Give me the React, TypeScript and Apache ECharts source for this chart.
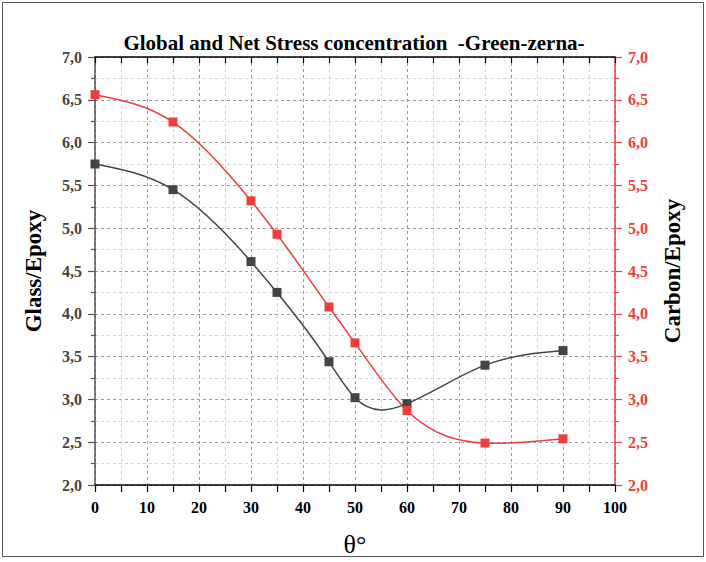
import React, { useEffect, useRef } from "react";
import * as echarts from "echarts";

// Fibre orientation angles (degrees)
const angles = [0, 15, 30, 35, 45, 50, 60, 75, 90];
// Stress concentration factor, Glass/Epoxy laminate
const glassEpoxy = [5.75, 5.45, 4.61, 4.25, 3.44, 3.02, 2.95, 3.4, 3.57];
// Stress concentration factor, Carbon/Epoxy laminate
const carbonEpoxy = [6.56, 6.24, 5.32, 4.93, 4.08, 3.66, 2.87, 2.49, 2.54];

const FONT = "'Liberation Serif', 'Times New Roman', serif";
const RED = "#f03c3c";
const DARK = "#444444";

const comma = (v: number) => v.toFixed(1).replace(".", ",");

// Slopes of the natural cubic spline through (xs, ys)
function splineSlopes(xs: number[], ys: number[]): number[] {
  const n = xs.length;
  const h: number[] = [];
  for (let i = 0; i < n - 1; i++) h.push(xs[i + 1] - xs[i]);
  const M = new Array(n).fill(0);
  if (n > 2) {
    const a: number[] = [], b: number[] = [], c: number[] = [], d: number[] = [];
    for (let i = 1; i < n - 1; i++) {
      a.push(h[i - 1]);
      b.push(2 * (h[i - 1] + h[i]));
      c.push(h[i]);
      d.push(6 * ((ys[i + 1] - ys[i]) / h[i] - (ys[i] - ys[i - 1]) / h[i - 1]));
    }
    const m = b.length;
    for (let i = 1; i < m; i++) {
      const w = a[i] / b[i - 1];
      b[i] -= w * c[i - 1];
      d[i] -= w * d[i - 1];
    }
    const sol = new Array(m).fill(0);
    sol[m - 1] = d[m - 1] / b[m - 1];
    for (let i = m - 2; i >= 0; i--) sol[i] = (d[i] - c[i] * sol[i + 1]) / b[i];
    for (let i = 0; i < m; i++) M[i + 1] = sol[i];
  }
  const s: number[] = [];
  for (let i = 0; i < n - 1; i++) {
    s.push((ys[i + 1] - ys[i]) / h[i] - (h[i] * (2 * M[i] + M[i + 1])) / 6);
  }
  const k = n - 2;
  s.push((ys[k + 1] - ys[k]) / h[k] + (h[k] * (M[k] + 2 * M[k + 1])) / 6);
  return s;
}

// Custom series drawing one Bezier segment per data point (to the next point)
function splineSeries(ys: number[], yAxisIndex: number, color: string, z: number) {
  const slopes = splineSlopes(angles, ys);
  return {
    type: "custom",
    xAxisIndex: 0,
    yAxisIndex,
    z,
    silent: true,
    data: angles.map((a, i) => [a, ys[i]]),
    renderItem: (params: any, api: any) => {
      const i = params.dataIndex;
      if (i >= angles.length - 1) return null;
      const x0 = angles[i], x1 = angles[i + 1];
      const y0 = ys[i], y1 = ys[i + 1];
      const h = x1 - x0;
      const p0 = api.coord([x0, y0]);
      const c1 = api.coord([x0 + h / 3, y0 + (h / 3) * slopes[i]]);
      const c2 = api.coord([x1 - h / 3, y1 - (h / 3) * slopes[i + 1]]);
      const p1 = api.coord([x1, y1]);
      return {
        type: "bezierCurve",
        shape: {
          x1: p0[0], y1: p0[1],
          cpx1: c1[0], cpy1: c1[1],
          cpx2: c2[0], cpy2: c2[1],
          x2: p1[0], y2: p1[1],
        },
        style: { stroke: color, lineWidth: 1.5, fill: "none" },
      };
    },
  };
}

export default function App() {
  const ref = useRef<HTMLDivElement>(null);

  useEffect(() => {
    document.body.style.margin = "0";
    const chart = echarts.init(ref.current!, null, { renderer: "svg" });

    const yCommon = {
      type: "value" as const,
      min: 2,
      max: 7,
      interval: 0.5,
    };

    chart.setOption({
      animation: false,
      backgroundColor: "#ffffff",
      title: {
        text: "Global and Net Stress concentration  -Green-zerna-",
        left: 349,
        top: 27,
        textAlign: "center",
        textStyle: { fontFamily: FONT, fontSize: 21, fontWeight: "bold", color: "#000" },
      },
      graphic: [
        {
          type: "rect",
          shape: { x: 2.5, y: 2.5, width: 701, height: 554 },
          style: { fill: "none", stroke: "#555", lineWidth: 1 },
          silent: true,
        },
      ],
      grid: { left: 95, right: 91, top: 57, bottom: 77 },
      xAxis: [
        {
          type: "value",
          min: 0,
          max: 100,
          interval: 10,
          name: "θ°",
          nameLocation: "middle",
          nameGap: 46,
          nameTextStyle: { fontFamily: FONT, fontSize: 26, color: "#000" },
          axisLine: { show: true, onZero: false, lineStyle: { color: "#000", width: 1.5 } },
          axisTick: { show: true, length: 7, lineStyle: { color: "#000", width: 1.2 } },
          minorTick: { show: true, splitNumber: 2, length: 7, lineStyle: { color: "#000", width: 1.2 } },
          axisLabel: {
            fontFamily: FONT,
            fontSize: 16,
            fontWeight: "bold",
            color: "#000",
            margin: 14,
          },
          splitLine: { show: true, lineStyle: { color: "#9a9a9a", type: [3, 3], width: 1 } },
          minorSplitLine: { show: true, lineStyle: { color: "#d2d2d2", type: [3, 3], width: 1 } },
        },
        {
          type: "value",
          position: "top",
          min: 0,
          max: 100,
          interval: 10,
          axisLine: { show: true, onZero: false, lineStyle: { color: "#000", width: 1.5 } },
          axisTick: { show: true, inside: true, length: 6, lineStyle: { color: "#000", width: 1.2 } },
          minorTick: { show: true, splitNumber: 2, length: 6, lineStyle: { color: "#000", width: 1.2 } },
          axisLabel: { show: false },
          splitLine: { show: false },
        },
      ],
      yAxis: [
        {
          ...yCommon,
          position: "left",
          name: "Glass/Epoxy",
          nameLocation: "middle",
          nameRotate: 90,
          nameGap: 50,
          nameTextStyle: { fontFamily: FONT, fontSize: 23, fontWeight: "bold", color: "#000" },
          axisLine: { show: true, onZero: false, lineStyle: { color: "#555", width: 1.5 } },
          axisTick: { show: true, length: 7, lineStyle: { color: "#555", width: 1.2 } },
          minorTick: { show: true, splitNumber: 2, length: 4, lineStyle: { color: "#555", width: 1.2 } },
          axisLabel: {
            fontFamily: FONT,
            fontSize: 16,
            fontWeight: "bold",
            color: DARK,
            margin: 13,
            formatter: comma,
          },
          splitLine: { show: true, lineStyle: { color: "#9a9a9a", type: [3, 3], width: 1 } },
          minorSplitLine: { show: true, lineStyle: { color: "#d2d2d2", type: [3, 3], width: 1 } },
        },
        {
          ...yCommon,
          position: "right",
          name: "Carbon/Epoxy",
          nameLocation: "middle",
          nameRotate: 90,
          nameGap: 46,
          nameTextStyle: { fontFamily: FONT, fontSize: 23, fontWeight: "bold", color: "#000" },
          axisLine: { show: true, onZero: false, lineStyle: { color: RED, width: 1.5 } },
          axisTick: { show: true, length: 7, lineStyle: { color: RED, width: 1.2 } },
          minorTick: { show: true, splitNumber: 2, length: 4, lineStyle: { color: RED, width: 1.2 } },
          axisLabel: {
            fontFamily: FONT,
            fontSize: 16,
            fontWeight: "bold",
            color: RED,
            margin: 13,
            formatter: comma,
          },
          splitLine: { show: false },
          minorSplitLine: { show: false },
        },
      ],
      series: [
        splineSeries(glassEpoxy, 0, DARK, 3),
        splineSeries(carbonEpoxy, 1, RED, 4),
        {
          name: "Glass/Epoxy",
          type: "scatter",
          xAxisIndex: 0,
          yAxisIndex: 0,
          data: angles.map((a, i) => [a, glassEpoxy[i]]),
          symbol: "rect",
          symbolSize: 9,
          itemStyle: { color: DARK, opacity: 1 },
          z: 5,
        },
        {
          name: "Carbon/Epoxy",
          type: "scatter",
          xAxisIndex: 0,
          yAxisIndex: 1,
          data: angles.map((a, i) => [a, carbonEpoxy[i]]),
          symbol: "rect",
          symbolSize: 9,
          itemStyle: { color: RED, opacity: 1 },
          z: 6,
        },
      ],
    });

    return () => chart.dispose();
  }, []);

  return (
    <div
      ref={ref}
      style={{ position: "fixed", left: 0, top: 0, width: 706, height: 562 }}
    />
  );
}
